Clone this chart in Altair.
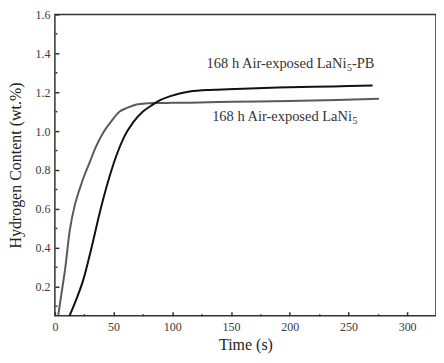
import altair as alt
import pandas as pd

# LaNi5 (gray curve)
gray_t = [2.8, 5.5, 8.5, 12.7, 17, 21, 25, 29.7, 35, 41, 48, 55.2, 62, 69.4, 77, 86.4, 100, 115, 150, 200, 240, 276]
gray_h = [0.05, 0.16, 0.28, 0.49, 0.62, 0.70, 0.77, 0.84, 0.92, 0.99, 1.05, 1.10, 1.12, 1.136, 1.142, 1.144, 1.145, 1.146, 1.150, 1.155, 1.160, 1.166]

# LaNi5-PB (black curve)
black_t = [12.5, 18, 24.1, 31.2, 38.2, 45.3, 52.4, 59, 66.5, 75, 83.5, 90, 97.7, 114.7, 135, 160, 190, 220, 250, 270.6]
black_h = [0.05, 0.13, 0.233, 0.40, 0.58, 0.74, 0.874, 0.97, 1.043, 1.10, 1.136, 1.16, 1.178, 1.203, 1.212, 1.218, 1.224, 1.228, 1.231, 1.234]

series_names = ["LaNi5", "LaNi5-PB"]
series_colors = ["#5a5a5a", "#111111"]

x_major = [0, 50, 100, 150, 200, 250, 300]
x_minor = [25, 75, 125, 175, 225, 275]
y_major = [0.2, 0.4, 0.6, 0.8, 1.0, 1.2, 1.4, 1.6]
y_minor = [0.1, 0.3, 0.5, 0.7, 0.9, 1.1, 1.3, 1.5]

ann_main = ["168 h Air-exposed LaNi", "168 h Air-exposed LaNi"]
ann_sub = ["5", "5"]
ann_tail = ["-PB", ""]
ann_x = [248.3, 253.0]
ann_y = [1.347, 1.073]

df = pd.concat([
    pd.DataFrame({"t": gray_t, "h": gray_h, "s": series_names[0]}),
    pd.DataFrame({"t": black_t, "h": black_h, "s": series_names[1]}),
])
ann = pd.DataFrame({"x": ann_x, "y": ann_y, "main": ann_main, "sub": ann_sub, "tail": ann_tail})

FONT = "Liberation Serif"
LBL = dict(labelFont=FONT, labelFontSize=12, labelColor="#3a3a3a",
           titleFont=FONT, titleFontSize=16, titleFontWeight="normal", titleColor="#222",
           tickColor="#333", tickWidth=1.5, domain=False, grid=False, labelFlush=False)

xscale = alt.Scale(domain=[0, 324.6], nice=False, zero=False)
yscale = alt.Scale(domain=[0.05, 1.6], nice=False, zero=False)

xaxis = alt.Axis(values=x_major, title="Time (s)", orient="bottom", offset=-4, tickSize=4,
                 format="d", labelPadding=6, titlePadding=4, **LBL)
yaxis = alt.Axis(values=y_major, title="Hydrogen Content (wt.%)", orient="left", offset=-4, tickSize=4,
                 format=".1f", labelPadding=5, titlePadding=11, **LBL)
xaxis_minor = alt.Axis(values=x_minor, title=None, orient="bottom", offset=-2, tickSize=2,
                       labels=False, tickColor="#333", tickWidth=1.5, domain=False, grid=False)
yaxis_minor = alt.Axis(values=y_minor, title=None, orient="left", offset=-2, tickSize=2,
                       labels=False, tickColor="#333", tickWidth=1.5, domain=False, grid=False)

lines = alt.Chart(df).mark_line(strokeWidth=2, interpolate="monotone", clip=True).encode(
    x=alt.X("t:Q", scale=xscale, axis=xaxis),
    y=alt.Y("h:Q", scale=yscale, axis=yaxis),
    color=alt.Color("s:N", scale=alt.Scale(domain=series_names, range=series_colors), legend=None),
    detail="s:N",
)

minor = alt.Chart(df).mark_point(opacity=0).encode(
    x=alt.X("t:Q", scale=xscale, axis=xaxis_minor),
    y=alt.Y("h:Q", scale=yscale, axis=yaxis_minor),
)

base_ann = alt.Chart(ann).encode(
    x=alt.X("x:Q", scale=xscale, axis=None),
    y=alt.Y("y:Q", scale=yscale, axis=None),
)
t_main = base_ann.mark_text(align="right", baseline="middle", font=FONT, fontSize=14.5, color="#333").encode(text="main:N")
t_sub = base_ann.mark_text(align="left", baseline="middle", font=FONT, fontSize=10, dx=0.5, dy=4, color="#333").encode(text="sub:N")
t_tail = base_ann.mark_text(align="left", baseline="middle", font=FONT, fontSize=14.5, dx=5.5, color="#333").encode(text="tail:N")

chart = alt.layer(lines, minor, t_main, t_sub, t_tail).resolve_axis(
    x="independent", y="independent"
).properties(
    width=382, height=302,
    autosize=alt.AutoSizeParams(type="none"),
    padding={"left": 47, "top": 6, "right": 0, "bottom": 40},
).configure_view(
    stroke="#333", strokeWidth=1.5,
)

chart.save("out.html", embed_options={"renderer": "svg", "actions": False})
